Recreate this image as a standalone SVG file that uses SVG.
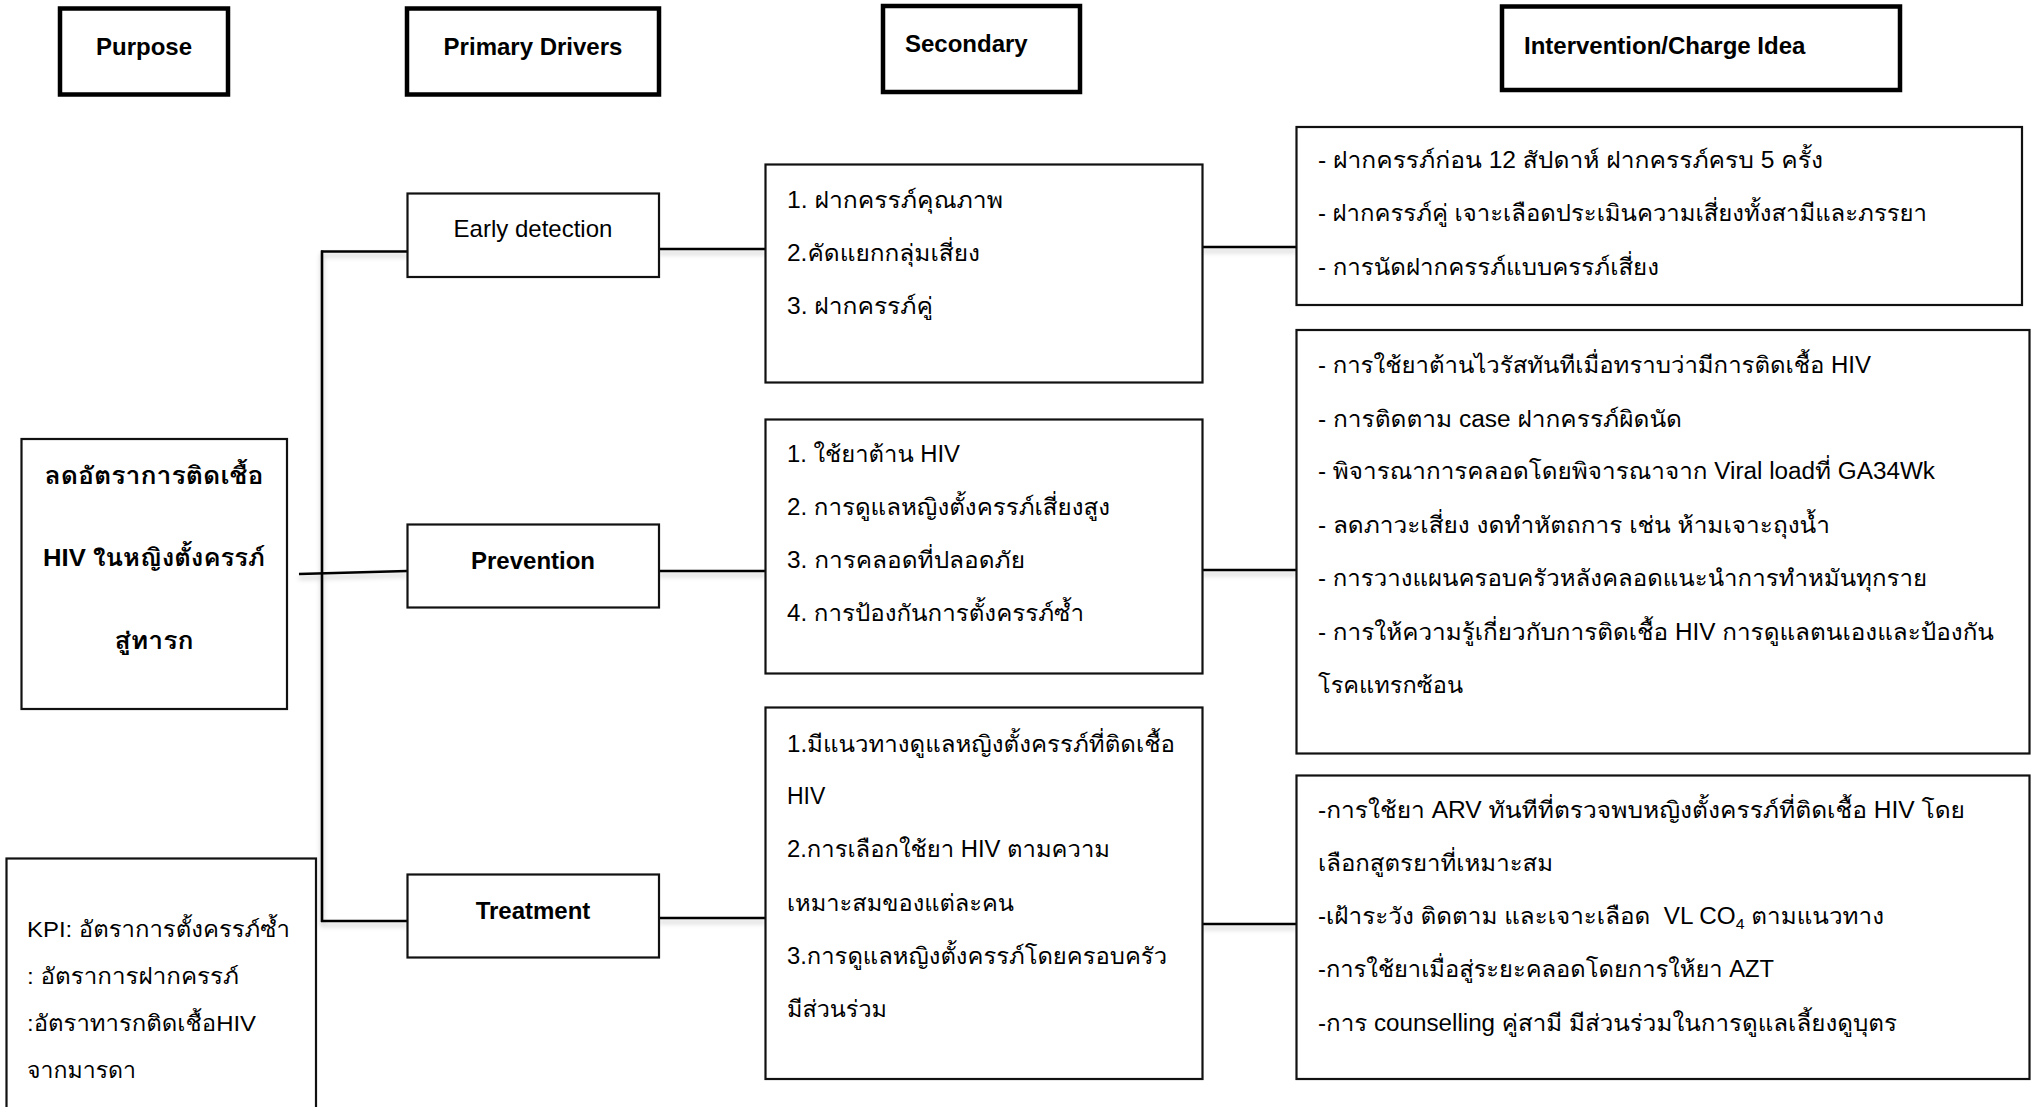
<svg xmlns="http://www.w3.org/2000/svg" width="2038" height="1107" viewBox="0 0 2038 1107">
<style>
  .hdr { fill: #ffffff; stroke: #000000; stroke-width: 4.5; }
  .box { fill: #ffffff; stroke: #111111; stroke-width: 2.2; }
  .conn { stroke: #000000; stroke-width: 2.6; fill: none; }
  text { font-family: "Liberation Sans", Arial, "Loma", "Tahoma", "Garuda", "Noto Sans Thai Looped", "Noto Sans Thai", sans-serif; fill: #000000; }
  .hd { font-size: 24px; font-weight: bold; }
  .dr { font-size: 24px; }
  .drb { font-size: 24px; font-weight: bold; }
  .th { font-size: 23px; }
  .thb { font-size: 24px; font-weight: bold; }
  .kpi { font-size: 22px; }
</style>
<defs>
  <filter id="shadow" x="-5%" y="-50%" width="110%" height="300%">
    <feDropShadow dx="0" dy="4" stdDeviation="2.5" flood-color="#000000" flood-opacity="0.22"/>
  </filter>
</defs>
<rect x="0" y="0" width="2038" height="1107" fill="#ffffff"/>

<g id="connectors" filter="url(#shadow)">
  <line class="conn" x1="299" y1="574" x2="407" y2="571"/>
  <line class="conn" x1="322" y1="250.5" x2="322" y2="922"/>
  <line class="conn" x1="321" y1="251.5" x2="407" y2="251.5"/>
  <line class="conn" x1="321" y1="921" x2="407" y2="921"/>
  <line class="conn" x1="659" y1="249" x2="765" y2="249"/>
  <line class="conn" x1="659" y1="571" x2="765" y2="571"/>
  <line class="conn" x1="659" y1="918" x2="765" y2="918"/>
  <line class="conn" x1="1202" y1="247" x2="1296" y2="247"/>
  <line class="conn" x1="1202" y1="570" x2="1296" y2="570"/>
  <line class="conn" x1="1202" y1="924" x2="1296" y2="924"/>
</g>

<g id="hdr-purpose">
  <rect class="hdr" x="60" y="8.5" width="168" height="86"/>
  <text class="hd" x="144" y="55" text-anchor="middle">Purpose</text>
</g>
<g id="hdr-primary">
  <rect class="hdr" x="407" y="8.5" width="252" height="86"/>
  <text class="hd" x="533" y="55" text-anchor="middle">Primary Drivers</text>
</g>
<g id="hdr-secondary">
  <rect class="hdr" x="883" y="6" width="197" height="86"/>
  <text class="hd" x="905" y="52">Secondary</text>
</g>
<g id="hdr-intervention">
  <rect class="hdr" x="1502" y="6.5" width="398" height="83.5"/>
  <text class="hd" x="1524" y="54">Intervention/Charge Idea</text>
</g>

<g id="purpose">
  <rect class="box" x="21.5" y="439" width="265.5" height="270"/>
  <text class="thb" x="154" y="484" text-anchor="middle" textLength="219" lengthAdjust="spacingAndGlyphs">ลดอัตราการติดเชื้อ</text>
  <text class="thb" x="154" y="566" text-anchor="middle" textLength="222" lengthAdjust="spacingAndGlyphs">HIV ในหญิงตั้งครรภ์</text>
  <text class="thb" x="154" y="649" text-anchor="middle" textLength="79" lengthAdjust="spacingAndGlyphs">สู่ทารก</text>
</g>

<g id="kpi">
  <rect class="box" x="6.5" y="858.5" width="309.5" height="270"/>
  <text class="kpi" x="27" y="937" textLength="263" lengthAdjust="spacingAndGlyphs">KPI: อัตราการตั้งครรภ์ซ้ำ</text>
  <text class="kpi" x="27" y="984" textLength="212" lengthAdjust="spacingAndGlyphs">: อัตราการฝากครรภ์</text>
  <text class="kpi" x="27" y="1031" textLength="229" lengthAdjust="spacingAndGlyphs">:อัตราทารกติดเชื้อHIV</text>
  <text class="kpi" x="27" y="1078" textLength="109" lengthAdjust="spacingAndGlyphs">จากมารดา</text>
</g>

<g id="early-detection">
  <rect class="box" x="407.5" y="193.5" width="251.5" height="83.5"/>
  <text class="dr" x="533" y="237" text-anchor="middle">Early detection</text>
</g>
<g id="prevention">
  <rect class="box" x="407.5" y="524.5" width="251.5" height="83"/>
  <text class="drb" x="533" y="569" text-anchor="middle">Prevention</text>
</g>
<g id="treatment">
  <rect class="box" x="407.5" y="874.5" width="251.5" height="83"/>
  <text class="drb" x="533" y="919" text-anchor="middle">Treatment</text>
</g>

<g id="secondary-1">
  <rect class="box" x="765.5" y="164.5" width="437" height="218"/>
  <text class="th" x="787" y="208" textLength="216" lengthAdjust="spacingAndGlyphs">1. ฝากครรภ์คุณภาพ</text>
  <text class="th" x="787" y="261" textLength="193" lengthAdjust="spacingAndGlyphs">2.คัดแยกกลุ่มเสี่ยง</text>
  <text class="th" x="787" y="314" textLength="146" lengthAdjust="spacingAndGlyphs">3. ฝากครรภ์คู่</text>
</g>
<g id="secondary-2">
  <rect class="box" x="765.5" y="419.5" width="437" height="254"/>
  <text class="th" x="787" y="462" textLength="173" lengthAdjust="spacingAndGlyphs">1. ใช้ยาต้าน HIV</text>
  <text class="th" x="787" y="515" textLength="323" lengthAdjust="spacingAndGlyphs">2. การดูแลหญิงตั้งครรภ์เสี่ยงสูง</text>
  <text class="th" x="787" y="568" textLength="238" lengthAdjust="spacingAndGlyphs">3. การคลอดที่ปลอดภัย</text>
  <text class="th" x="787" y="621" textLength="297" lengthAdjust="spacingAndGlyphs">4. การป้องกันการตั้งครรภ์ซ้ำ</text>
</g>
<g id="secondary-3">
  <rect class="box" x="765.5" y="707.5" width="437" height="371.5"/>
  <text class="th" x="787" y="752" textLength="388" lengthAdjust="spacingAndGlyphs">1.มีแนวทางดูแลหญิงตั้งครรภ์ที่ติดเชื้อ</text>
  <text class="th" x="787" y="804">HIV</text>
  <text class="th" x="787" y="857" textLength="323" lengthAdjust="spacingAndGlyphs">2.การเลือกใช้ยา HIV ตามความ</text>
  <text class="th" x="787" y="911" textLength="227" lengthAdjust="spacingAndGlyphs">เหมาะสมของแต่ละคน</text>
  <text class="th" x="787" y="964" textLength="380" lengthAdjust="spacingAndGlyphs">3.การดูแลหญิงตั้งครรภ์โดยครอบครัว</text>
  <text class="th" x="787" y="1017" textLength="100" lengthAdjust="spacingAndGlyphs">มีส่วนร่วม</text>
</g>

<g id="intervention-1">
  <rect class="box" x="1296.5" y="127" width="725.5" height="178"/>
  <text class="th" x="1318" y="168" textLength="505" lengthAdjust="spacingAndGlyphs">- ฝากครรภ์ก่อน 12 สัปดาห์ ฝากครรภ์ครบ 5 ครั้ง</text>
  <text class="th" x="1318" y="221" textLength="609" lengthAdjust="spacingAndGlyphs">- ฝากครรภ์คู่ เจาะเลือดประเมินความเสี่ยงทั้งสามีและภรรยา</text>
  <text class="th" x="1318" y="275" textLength="341" lengthAdjust="spacingAndGlyphs">- การนัดฝากครรภ์แบบครรภ์เสี่ยง</text>
</g>
<g id="intervention-2">
  <rect class="box" x="1296.5" y="330" width="733" height="423.5"/>
  <text class="th" x="1318" y="373" textLength="553" lengthAdjust="spacingAndGlyphs">- การใช้ยาต้านไวรัสทันทีเมื่อทราบว่ามีการติดเชื้อ HIV</text>
  <text class="th" x="1318" y="427" textLength="364" lengthAdjust="spacingAndGlyphs">- การติดตาม case ฝากครรภ์ผิดนัด</text>
  <text class="th" x="1318" y="479" textLength="617" lengthAdjust="spacingAndGlyphs">- พิจารณาการคลอดโดยพิจารณาจาก Viral loadที่ GA34Wk</text>
  <text class="th" x="1318" y="533" textLength="512" lengthAdjust="spacingAndGlyphs">- ลดภาวะเสี่ยง งดทำหัตถการ เช่น ห้ามเจาะถุงน้ำ</text>
  <text class="th" x="1318" y="586" textLength="609" lengthAdjust="spacingAndGlyphs">- การวางแผนครอบครัวหลังคลอดแนะนำการทำหมันทุกราย</text>
  <text class="th" x="1318" y="640" textLength="676" lengthAdjust="spacingAndGlyphs">- การให้ความรู้เกี่ยวกับการติดเชื้อ HIV การดูแลตนเองและป้องกัน</text>
  <text class="th" x="1318" y="693" textLength="145" lengthAdjust="spacingAndGlyphs">โรคแทรกซ้อน</text>
</g>
<g id="intervention-3">
  <rect class="box" x="1296.5" y="775.5" width="733" height="303.5"/>
  <text class="th" x="1318" y="818" textLength="647" lengthAdjust="spacingAndGlyphs">-การใช้ยา ARV ทันทีที่ตรวจพบหญิงตั้งครรภ์ที่ติดเชื้อ HIV โดย</text>
  <text class="th" x="1318" y="871" textLength="235" lengthAdjust="spacingAndGlyphs">เลือกสูตรยาที่เหมาะสม</text>
  <text class="th" x="1318" y="924" xml:space="preserve" textLength="566" lengthAdjust="spacingAndGlyphs">-เฝ้าระวัง ติดตาม และเจาะเลือด  VL CO<tspan font-size="15" dy="5">4</tspan><tspan dy="-5"> ตามแนวทาง</tspan></text>
  <text class="th" x="1318" y="977" textLength="456" lengthAdjust="spacingAndGlyphs">-การใช้ยาเมื่อสู่ระยะคลอดโดยการให้ยา AZT</text>
  <text class="th" x="1318" y="1031" textLength="579" lengthAdjust="spacingAndGlyphs">-การ counselling คู่สามี มีส่วนร่วมในการดูแลเลี้ยงดูบุตร</text>
</g>
</svg>
